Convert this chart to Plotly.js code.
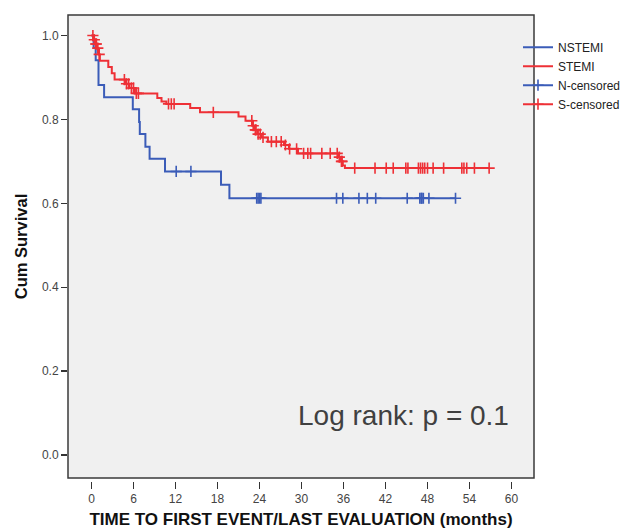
<!DOCTYPE html>
<html>
<head>
<meta charset="utf-8">
<script src="https://cdn.plot.ly/plotly-3.0.1.min.js"></script>
<style>
html, body { margin: 0; padding: 0; background: #ffffff; }
#chart { width: 638px; height: 529px; }
</style>
</head>
<body>
<div id="chart"></div>
<script>
// ---- Data (time in months, cumulative survival) ----
var nstemiTime = [0, 0.3, 0.6, 1.0, 1.8, 5.9, 6.8, 6.9, 7.7, 8.3, 10.5, 18.5, 19.7, 52.0];
var nstemiSurv = [1.0, 0.971, 0.941, 0.882, 0.853, 0.824, 0.794, 0.765, 0.735, 0.706, 0.676, 0.644, 0.612, 0.612];

var stemiTime = [0, 0.3, 0.5, 0.8, 1.0, 1.2, 2.4, 2.9, 3.3, 4.9, 5.4, 6.2, 9.4, 10.0, 10.7, 14.1, 15.5, 21.0, 22.0, 23.0, 23.3, 23.7, 24.3, 25.2, 27.5, 28.2, 29.5, 35.3, 35.6, 35.9, 36.2, 56.8];
var stemiSurv = [1.0, 0.99, 0.98, 0.97, 0.955, 0.94, 0.925, 0.91, 0.895, 0.885, 0.875, 0.862, 0.851, 0.843, 0.837, 0.827, 0.817, 0.807, 0.797, 0.785, 0.775, 0.765, 0.757, 0.747, 0.739, 0.730, 0.719, 0.710, 0.700, 0.690, 0.684, 0.684];

var nstemiCensTime = [12.1, 14.2, 23.6, 23.8, 24.0, 24.2, 35.0, 35.9, 38.2, 39.4, 40.6, 45.1, 46.9, 47.1, 47.2, 47.4, 48.2, 52.0];
var nstemiCensSurv = [0.676, 0.676, 0.612, 0.612, 0.612, 0.612, 0.612, 0.612, 0.612, 0.612, 0.612, 0.612, 0.612, 0.612, 0.612, 0.612, 0.612, 0.612];

var stemiCensTime = [0.2, 0.4, 0.6, 0.7, 0.9, 1.1, 4.7, 5.0, 5.3, 5.7, 6.0, 6.4, 6.7, 11.0, 11.4, 11.8, 17.4, 22.9, 23.1, 23.4, 23.5, 23.8, 24.1, 24.5, 25.7, 26.4, 27.1, 27.7, 28.3, 29.3, 30.3, 30.9, 31.3, 32.9, 34.1, 35.1, 35.4, 35.7, 35.8, 37.6, 40.5, 42.1, 43.1, 44.9, 45.2, 46.7, 47.0, 47.3, 47.6, 48.0, 48.8, 50.3, 52.9, 53.2, 53.6, 54.7, 56.8];
var stemiCensSurv = [1.0, 0.99, 0.98, 0.98, 0.97, 0.955, 0.895, 0.885, 0.885, 0.875, 0.875, 0.862, 0.862, 0.837, 0.837, 0.837, 0.817, 0.797, 0.785, 0.775, 0.775, 0.765, 0.765, 0.757, 0.747, 0.747, 0.747, 0.739, 0.730, 0.730, 0.719, 0.719, 0.719, 0.719, 0.719, 0.719, 0.710, 0.700, 0.700, 0.684, 0.684, 0.684, 0.684, 0.684, 0.684, 0.684, 0.684, 0.684, 0.684, 0.684, 0.684, 0.684, 0.684, 0.684, 0.684, 0.684, 0.684];

var seriesNames = ['NSTEMI', 'STEMI', 'N-censored', 'S-censored'];
var xTickVals = [0, 6, 12, 18, 24, 30, 36, 42, 48, 54, 60];
var yTickVals = [0, 0.2, 0.4, 0.6, 0.8, 1.0];

// ---- Styling ----
var BLUE = '#3b5cb8';
var RED = '#ee3036';
var FONT = 'Arial, "Liberation Sans", Helvetica, sans-serif';
var X_DOMAIN_END = 466 / 550;   // plot area 466px wide inside a 550px paper
var Y_DOMAIN_START = 3 / 466;   // small gap between plot box and x-axis ticks

// Separate censor points with nulls so no connecting line is drawn,
// while the legend still shows the "line + cross" symbol.
function separated(arr) {
  var out = [];
  arr.forEach(function (v) { out.push(v); out.push(null); });
  return out;
}

var traces = [
  {
    x: nstemiTime, y: nstemiSurv, name: seriesNames[0],
    type: 'scatter', mode: 'lines', line: { shape: 'hv', color: BLUE, width: 2 },
    hoverinfo: 'skip'
  },
  {
    x: stemiTime, y: stemiSurv, name: seriesNames[1],
    type: 'scatter', mode: 'lines', line: { shape: 'hv', color: RED, width: 2 },
    hoverinfo: 'skip'
  },
  {
    x: separated(nstemiCensTime), y: separated(nstemiCensSurv), name: seriesNames[2],
    type: 'scatter', mode: 'lines+markers', connectgaps: false,
    line: { color: BLUE, width: 2 },
    marker: { symbol: 'cross-thin', size: 8, color: BLUE, line: { color: BLUE, width: 1.6 } },
    hoverinfo: 'skip'
  },
  {
    x: separated(stemiCensTime), y: separated(stemiCensSurv), name: seriesNames[3],
    type: 'scatter', mode: 'lines+markers', connectgaps: false,
    line: { color: RED, width: 2 },
    marker: { symbol: 'cross-thin', size: 8, color: RED, line: { color: RED, width: 1.6 } },
    hoverinfo: 'skip'
  }
];

var layout = {
  width: 638,
  height: 529,
  margin: { l: 68, r: 20, t: 15, b: 48, pad: 0 },
  paper_bgcolor: '#ffffff',
  plot_bgcolor: '#f0f0f0',
  font: { family: FONT, size: 12, color: '#444444' },
  showlegend: true,
  legend: {
    x: 450 / 550, xanchor: 'left', y: 0.962, yanchor: 'top',
    bgcolor: 'rgba(0,0,0,0)', borderwidth: 0,
    font: { family: FONT, size: 12, color: '#222222' },
    tracegroupgap: 0
  },
  xaxis: {
    range: [-3.357, 63.21],
    domain: [0, X_DOMAIN_END],
    anchor: 'free', position: 0,
    tickmode: 'array', tickvals: xTickVals, ticktext: xTickVals.map(String),
    ticks: 'outside', ticklen: 7, tickwidth: 1.3, tickcolor: '#333333',
    showgrid: false, zeroline: false, showline: false,
    tickfont: { family: FONT, size: 12, color: '#444444' },
    title: {
      text: 'TIME TO FIRST EVENT/LAST EVALUATION (months)',
      font: { family: FONT, size: 17, color: '#111111', weight: 'bold' },
      standoff: 8
    },
    fixedrange: true
  },
  yaxis: {
    range: [-0.055, 1.049],
    domain: [Y_DOMAIN_START, 1],
    tickmode: 'array', tickvals: yTickVals, ticktext: yTickVals.map(function (v) { return v.toFixed(1); }),
    ticks: 'outside', ticklen: 6, tickwidth: 1.3, tickcolor: '#333333',
    showgrid: false, zeroline: false, showline: false,
    tickfont: { family: FONT, size: 12, color: '#444444' },
    title: {
      text: 'Cum Survival',
      font: { family: FONT, size: 16.5, color: '#111111', weight: 'bold' },
      standoff: 10
    },
    fixedrange: true
  },
  shapes: [
    {
      type: 'rect', xref: 'paper', yref: 'paper',
      x0: 0, x1: X_DOMAIN_END, y0: Y_DOMAIN_START, y1: 1,
      line: { color: '#3a3a3a', width: 1.5 }, fillcolor: 'rgba(0,0,0,0)', layer: 'above'
    }
  ],
  annotations: [
    {
      text: 'Log rank: p = 0.1',
      xref: 'paper', yref: 'paper', x: 228 / 550, y: 0.1395,
      xanchor: 'left', yanchor: 'middle', showarrow: false,
      font: { family: FONT, size: 28, color: '#404040' }
    }
  ]
};

Plotly.newPlot('chart', traces, layout, { staticPlot: true, displayModeBar: false });
</script>
</body>
</html>
